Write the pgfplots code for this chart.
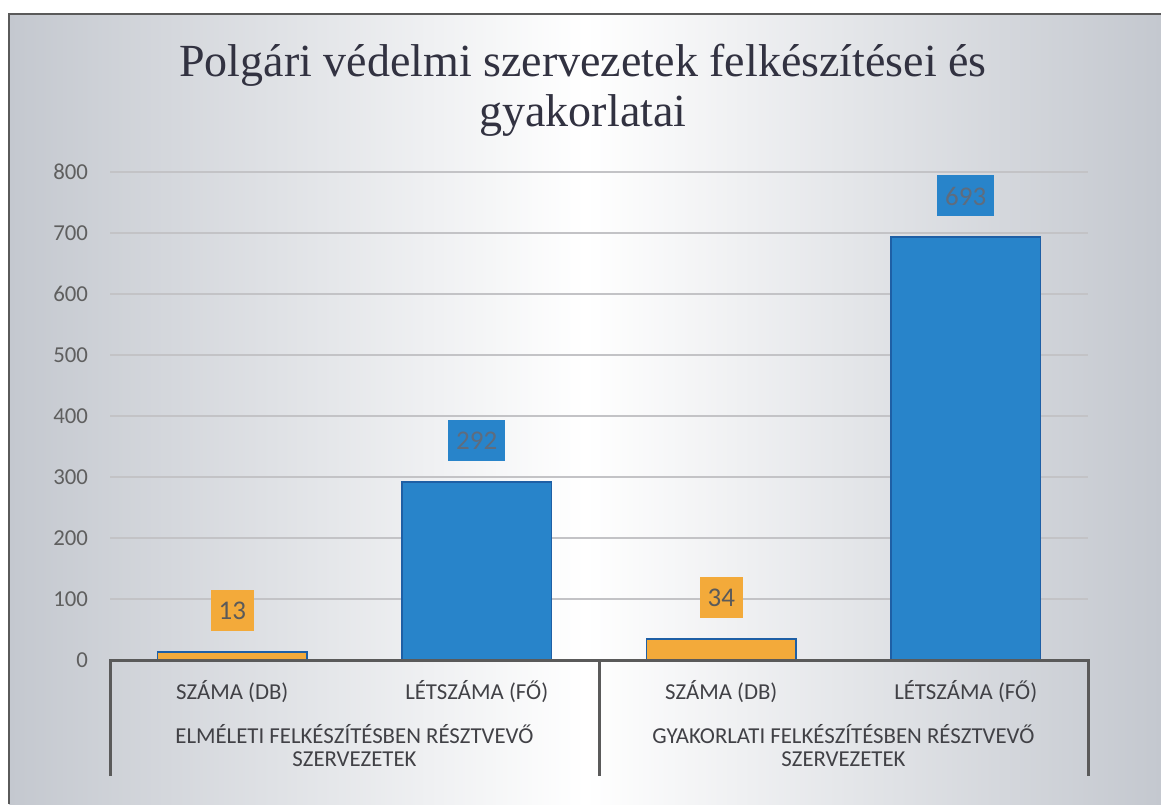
\documentclass[border=0pt]{standalone}
\usepackage{fontspec}
\setmainfont{Carlito}
\newfontfamily\titlefont{Liberation Serif}
\usepackage{pgfplots}
\pgfplotsset{compat=1.18}
\definecolor{orangeC}{RGB}{243,170,58}
\definecolor{blueC}{RGB}{40,132,202}
\definecolor{edgeC}{RGB}{30,95,165}
\definecolor{gridC}{RGB}{195,195,198}
\definecolor{tickC}{RGB}{95,95,95}
\definecolor{catC}{RGB}{65,65,70}
\definecolor{axisC}{RGB}{90,90,90}
\definecolor{titleC}{RGB}{50,50,65}
\definecolor{bgC}{RGB}{196,200,207}
\definecolor{lab1C}{RGB}{90,90,90}
\definecolor{lab2C}{RGB}{95,108,125}
\begin{document}
\begin{tikzpicture}
\path[use as bounding box] (0pt,0pt) rectangle (580.5pt,-402pt);
\begin{scope}[x=0.5pt,y=-0.5pt]
\shade[left color=bgC, right color=bgC, middle color=white] (9,14) rectangle (1161,804);
\draw[axisC, line width=1pt] (9,804) -- (9,14) -- (1161,14);
\node[font=\titlefont\fontsize{23}{28}\selectfont, text=titleC, anchor=base, inner sep=0pt] at (583,76.5) {Polgári védelmi szervezetek felkészítései és};
\node[font=\titlefont\fontsize{23}{28}\selectfont, text=titleC, anchor=base, inner sep=0pt] at (583,126.5) {gyakorlatai};
\end{scope}
\begin{axis}[
  at={(55pt,-330pt)}, anchor=south west,
  scale only axis, width=489pt, height=244pt,
  xmin=-0.5, xmax=3.5, ymin=0, ymax=800,
  clip=false,
  axis line style={draw=none},
  major tick length=0pt,
  ytick={0,100,...,800},
  ymajorgrids, grid style={gridC, line width=0.6pt},
  xtick={0,1,2,3},
  xticklabels={SZÁMA (DB),LÉTSZÁMA (FŐ),SZÁMA (DB),LÉTSZÁMA (FŐ)},
  /pgf/number format/assume math mode=true,
  yticklabel style={font=\fontsize{11.4}{13}\selectfont, text=tickC, xshift=-7.5pt},
  xticklabel style={font=\fontsize{11.4}{13}\selectfont, text=catC, anchor=base, yshift=-19.5pt},
  ybar, bar width=0.61, bar shift=0pt,
  nodes near coords,
  nodes near coords style={font=\fontsize{13.5}{15}\selectfont, anchor=south, yshift=10pt, minimum height=20.5pt, inner xsep=4pt, inner ysep=0pt},
]
\addplot[fill=orangeC, draw=edgeC, line width=0.8pt,
  every node near coord/.append style={fill=orangeC, text=lab1C}]
  coordinates {(0,13) (2,34)};
\addplot[fill=blueC, draw=edgeC, line width=0.8pt,
  every node near coord/.append style={fill=blueC, text=lab2C}]
  coordinates {(1,292) (3,693)};
\draw[axisC, line width=1.5pt, line join=miter]
  ([yshift=-58pt]axis cs:-0.5,0) -- (axis cs:-0.5,0) -- (axis cs:3.5,0) -- ([yshift=-58pt]axis cs:3.5,0);
\draw[axisC, line width=1.5pt] (axis cs:1.5,0) -- ([yshift=-58pt]axis cs:1.5,0);
\node[font=\fontsize{11.4}{13}\selectfont, text=catC, anchor=base] at ([yshift=-41.5pt]axis cs:0.5,0) {ELMÉLETI FELKÉSZÍTÉSBEN RÉSZTVEVŐ};
\node[font=\fontsize{11.4}{13}\selectfont, text=catC, anchor=base] at ([yshift=-53pt]axis cs:0.5,0) {SZERVEZETEK};
\node[font=\fontsize{11.4}{13}\selectfont, text=catC, anchor=base] at ([yshift=-41.5pt]axis cs:2.5,0) {GYAKORLATI FELKÉSZÍTÉSBEN RÉSZTVEVŐ};
\node[font=\fontsize{11.4}{13}\selectfont, text=catC, anchor=base] at ([yshift=-53pt]axis cs:2.5,0) {SZERVEZETEK};
\end{axis}
\end{tikzpicture}
\end{document}
